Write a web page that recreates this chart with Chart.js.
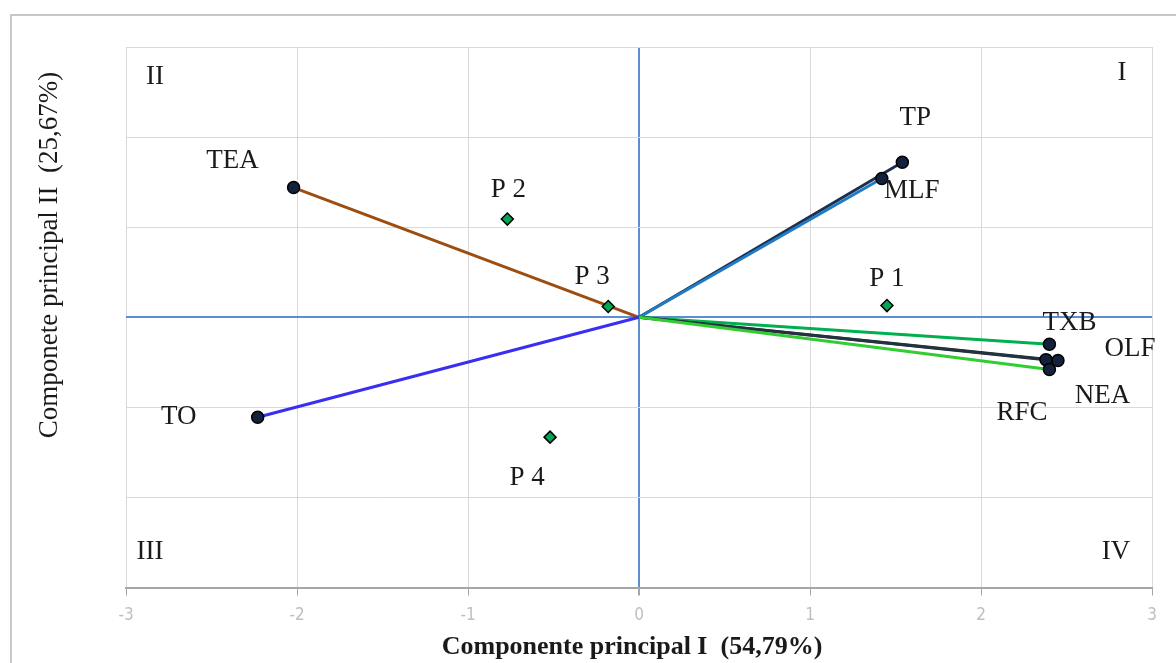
<!DOCTYPE html>
<html>
<head>
<meta charset="utf-8">
<script src="https://cdn.jsdelivr.net/npm/chart.js@4/dist/chart.umd.min.js"></script>
<style>
  html, body { margin: 0; padding: 0; background: #fff; overflow: hidden; }
  #frame { position: absolute; left: 10px; top: 14px; width: 1200px; height: 700px; border: 2px solid #c8c8c8; }
  #wrap { position: absolute; left: 0; top: 0; width: 1176px; height: 663px; }
</style>
</head>
<body>
<div id="frame"></div>
<div id="wrap"><canvas id="pcaChart" width="1176" height="663"></canvas></div>
<script>
// datos del biplot
const xTicks = [-3, -2, -1, 0, 1, 2, 3];
const yTicks = [-3, -2, -1, 0, 1, 2, 3];

const vectorNames = ["TEA", "TO", "TP", "MLF", "TXB", "OLF", "RFC", "NEA"];
const vectorX = [-2.02, -2.23, 1.54, 1.42, 2.40, 2.45, 2.38, 2.40];
const vectorY = [1.44, -1.11, 1.72, 1.54, -0.30, -0.48, -0.47, -0.58];

const pointNames = ["P 1", "P 2", "P 3", "P 4"];
const pointX = [1.45, -0.77, -0.18, -0.52];
const pointY = [0.13, 1.09, 0.12, -1.33];

const quadrantNames = ["I", "II", "III", "IV"];

// estilos
const vectorColors = ["#9c4d12", "#3a2ff0", "#1d2f4f", "#1f7cc4", "#00b050", "#1b3a2a", "#24323f", "#33cc33"];
const vectorOrder = [8, 7, 6, 5, 4, 3, 2, 1];
const vectorLabelOffsets = [[-61, -27], [-79, 0], [13, -44], [30, 12], [20, -21], [72, -12], [-24, 53], [53, 26]];
const pointLabelOffsets = [[0, -27], [1, -29], [-16, -30], [-23, 41]];

const serif = "'Liberation Serif', 'Times New Roman', serif";

document.addEventListener("DOMContentLoaded", function () {
    const ctx = document.getElementById("pcaChart").getContext("2d");

    const datasets = vectorNames.map(function (name, i) {
        return {
            label: name,
            order: vectorOrder[i],
            data: [{ x: 0, y: 0 }, { x: vectorX[i], y: vectorY[i] }],
            showLine: true,
            borderColor: vectorColors[i],
            borderWidth: 3,
            pointRadius: [0, 6],
            pointBackgroundColor: "#14213d",
            pointBorderColor: "#000",
            pointBorderWidth: 1.5
        };
    });

    datasets.push({
        label: "Puntos",
        order: 0,
        data: pointX.map(function (x, i) { return { x: x, y: pointY[i] }; }),
        showLine: false,
        pointStyle: "rectRot",
        pointRadius: 6,
        pointBackgroundColor: "#00a651",
        pointBorderColor: "#000",
        pointBorderWidth: 1.5
    });

    // etiquetas de texto sobre el grafico
    const labelPlugin = {
        id: "biplotLabels",
        afterDatasetsDraw(chart) {
            const c = chart.ctx;
            const xs = chart.scales.x, ys = chart.scales.y;
            const area = chart.chartArea;
            c.save();
            c.fillStyle = "#1a1a1a";
            c.font = "27px " + serif;
            c.textAlign = "center";
            c.textBaseline = "middle";
            vectorNames.forEach(function (name, i) {
                const off = vectorLabelOffsets[i];
                c.fillText(name, xs.getPixelForValue(vectorX[i]) + off[0], ys.getPixelForValue(vectorY[i]) + off[1]);
            });
            pointNames.forEach(function (name, i) {
                const off = pointLabelOffsets[i];
                c.fillText(name, xs.getPixelForValue(pointX[i]) + off[0], ys.getPixelForValue(pointY[i]) + off[1]);
            });
            // cuadrantes
            c.fillText(quadrantNames[0], area.right - 30, area.top + 26);
            c.fillText(quadrantNames[1], area.left + 29, area.top + 30);
            c.fillText(quadrantNames[2], area.left + 24, area.bottom - 36);
            c.fillText(quadrantNames[3], area.right - 36, area.bottom - 36);

            // titulos de ejes
            c.font = "bold 26px " + serif;
            c.fillText("Componente principal I  (54,79%)", (area.left + area.right) / 2 - 7, 647);
            c.font = "27px " + serif;
            c.translate(50, 255);
            c.rotate(-Math.PI / 2);
            c.fillText("Componete principal II  (25,67%)", 0, 0);
            c.restore();
        }
    };

    const zeroColor = "#5b8fd0";

    new Chart(ctx, {
        type: "scatter",
        data: { datasets: datasets },
        plugins: [labelPlugin],
        options: {
            responsive: false,
            animation: false,
            layout: { padding: { left: 126, right: 24, top: 47, bottom: 27 } },
            plugins: {
                legend: { display: false },
                tooltip: { enabled: false }
            },
            scales: {
                x: {
                    type: "linear",
                    min: -3,
                    max: 3,
                    afterBuildTicks: function (scale) {
                        scale.ticks = xTicks.map(function (v) { return { value: v }; });
                    },
                    ticks: {
                        color: "#bfbfbf",
                        font: { family: "'Liberation Sans Narrow', 'DejaVu Sans Condensed', sans-serif", size: 17 },
                        padding: 10
                    },
                    grid: {
                        color: function (c) { return c.tick && c.tick.value === 0 ? zeroColor : "#d9d9d9"; },
                        lineWidth: function (c) { return c.tick && c.tick.value === 0 ? 2 : 1; },
                        tickColor: "#a6a6a6",
                        tickLength: 8
                    },
                    border: { display: true, color: "#a6a6a6", width: 2 }
                },
                y: {
                    type: "linear",
                    min: -3,
                    max: 3,
                    afterBuildTicks: function (scale) {
                        scale.ticks = yTicks.map(function (v) { return { value: v }; });
                    },
                    ticks: { display: false },
                    grid: {
                        color: function (c) { return c.tick && c.tick.value === 0 ? zeroColor : "#d9d9d9"; },
                        lineWidth: function (c) { return c.tick && c.tick.value === 0 ? 2 : 1; },
                        drawTicks: false
                    },
                    border: { display: false }
                }
            }
        }
    });
});
</script>
</body>
</html>
